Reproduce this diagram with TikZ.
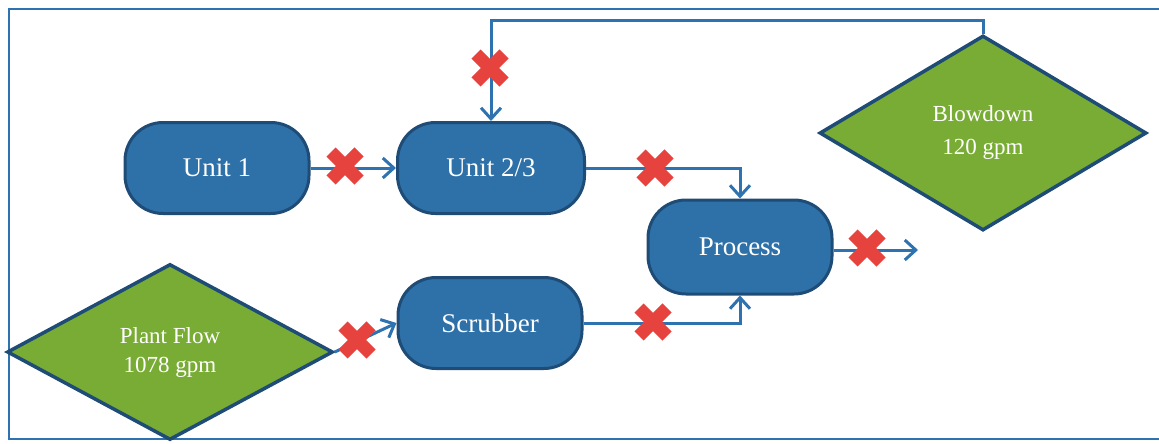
\documentclass[tikz,border=0pt]{standalone}
\usepackage{fontspec}
\setmainfont{Liberation Serif}
\usetikzlibrary{shapes.geometric,arrows.meta}
\definecolor{unitfill}{RGB}{46,112,168}
\definecolor{unitedge}{RGB}{30,76,118}
\definecolor{feedfill}{RGB}{120,172,52}
\definecolor{flowline}{RGB}{46,114,176}
\definecolor{shutred}{RGB}{230,66,62}
\tikzset{
  unit/.style={rectangle,rounded corners=38pt,fill=unitfill,draw=unitedge,line width=3pt,
    text=white,font=\fontsize{27}{30}\selectfont,minimum height=91pt,minimum width=184pt},
  feed/.style={diamond,fill=feedfill,draw=unitedge,line width=3.5pt,inner sep=0pt,
    text=white,align=center},
  flow/.style={draw=flowline,line width=3pt,-{Straight Barb[length=11pt,width=20pt,line width=3pt]}},
  shut/.style={draw=shutred,line width=13pt},
}

\begin{document}
\begin{tikzpicture}[x=1pt,y=-1pt]
  \useasboundingbox (0,0) rectangle (1159,444);
  \draw[flowline,line width=2pt] (1159,9) -- (9,9) -- (9,439) -- (1159,439);

  \node[unit] (u1) at (217,168) {Unit 1};
  \node[unit,minimum width=187pt] (u23) at (491,168) {Unit 2/3};
  \node[unit] (scr) at (490,323) {Scrubber};
  \node[unit,minimum height=94pt] (proc) at (740,247) {Process};
  \node[feed,minimum width=326pt,minimum height=176pt,
    font=\fontsize{23}{29}\selectfont] (pf) at (170,352) {Plant Flow\\1078 gpm};
  \node[feed,minimum width=327pt,minimum height=195pt,
    font=\fontsize{23}{33}\selectfont] (bd) at (983,133) {Blowdown\\120 gpm};
  \coordinate (out) at (918,250);

  \draw[flow] (u1) -- (u23);
  \draw[flow] (u23.east) -| (proc.north);
  \draw[flow] (scr.east) -| (proc.south);
  \draw[flow] (proc.east |- out) -- (out);
  \draw[flow] (pf.east) -- (scr.west);
  \draw[flow] (bd.north) -- ++(0,-13) -| (u23.north);

  % shut-off marks
  \foreach \x/\y in {345/166,490/68,655/168,653/322,867/248,357/340}{
    \draw[shut] (\x-14,\y-14) -- (\x+14,\y+14);
    \draw[shut] (\x-14,\y+14) -- (\x+14,\y-14);
  }
\end{tikzpicture}
\end{document}
